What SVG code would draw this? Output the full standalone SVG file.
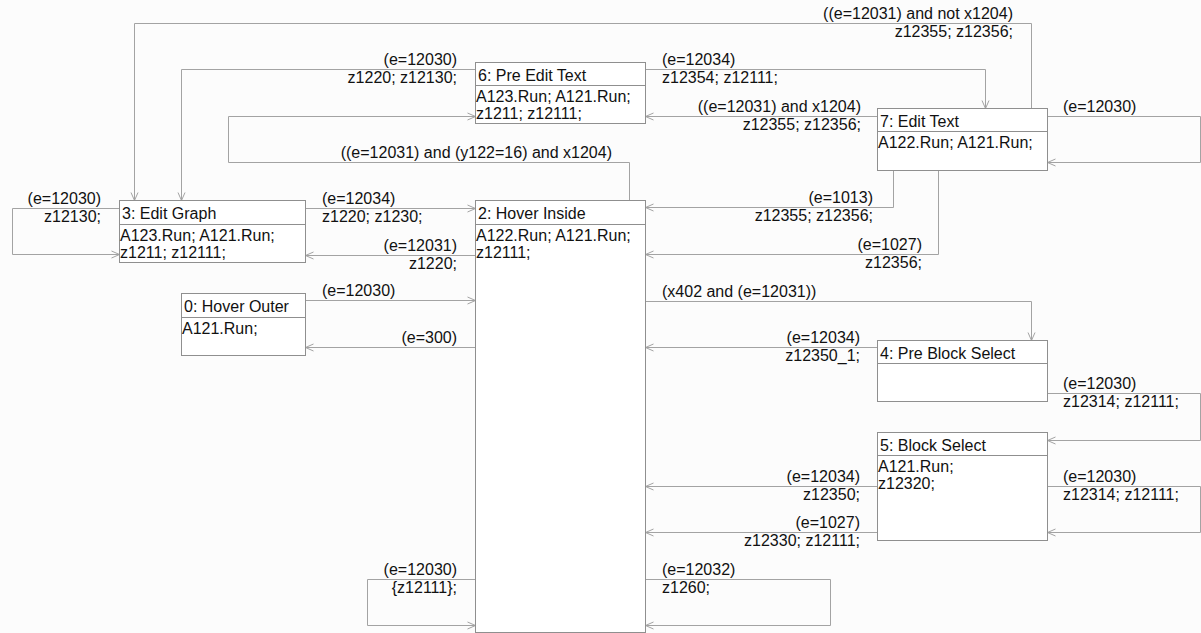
<svg xmlns="http://www.w3.org/2000/svg" width="1201" height="633" viewBox="0 0 1201 633">
<style>
text{font-family:"Liberation Sans",Arial,sans-serif;font-size:16px;fill:#111}
.e{text-anchor:end}
.box{fill:#fff;stroke:#8f8f8f;stroke-width:1}
.sep{stroke:#8f8f8f;stroke-width:1}
.c{fill:none;stroke:#a3a3a3;stroke-width:1;marker-end:url(#ah)}
</style>
<defs>
<marker id="ah" markerUnits="userSpaceOnUse" markerWidth="12" markerHeight="10" viewBox="-10 -5 12 10" refX="0" refY="0" orient="auto">
<path d="M-8,-3.5 L0,0 L-8,3.5" fill="none" stroke="#a3a3a3" stroke-width="1"/>
</marker>
</defs>
<rect width="1201" height="633" fill="#fcfcfc"/>
<g id="connectors" transform="translate(0.5,0.5)">
<polyline class="c" points="1031,108 1031,23 134,23 134,200"/>
<polyline class="c" points="475,69 181,69 181,200"/>
<polyline class="c" points="877,116 645,116"/>
<polyline class="c" points="645,69 985,69 985,108"/>
<polyline class="c" points="629,200 629,162 228,162 228,116 475,116"/>
<polyline class="c" points="1047,116 1200,116 1200,162 1047,162"/>
<polyline class="c" points="893,170 893,207 645,207"/>
<polyline class="c" points="938,170 938,254 645,254"/>
<polyline class="c" points="305,208 475,208"/>
<polyline class="c" points="475,255 305,255"/>
<polyline class="c" points="119,208 12,208 12,254 119,254"/>
<polyline class="c" points="305,300 475,300"/>
<polyline class="c" points="475,347 305,347"/>
<polyline class="c" points="645,301 1031,301 1031,340"/>
<polyline class="c" points="877,347 645,347"/>
<polyline class="c" points="1047,393 1200,393 1200,440 1047,440"/>
<polyline class="c" points="1047,486 1200,486 1200,532 1047,532"/>
<polyline class="c" points="877,486 645,486"/>
<polyline class="c" points="877,532 645,532"/>
<polyline class="c" points="645,579 830,579 830,625 645,625"/>
<polyline class="c" points="475,579 367,579 367,625 475,625"/>
</g>
<g id="labels">
<text class="e" x="1013" y="19">((e=12031) and not x1204)</text>
<text class="e" x="1013" y="37">z12355; z12356;</text>
<text class="e" x="457" y="65">(e=12030)</text>
<text class="e" x="457" y="83">z1220; z12130;</text>
<text x="662" y="65">(e=12034)</text>
<text x="662" y="83">z12354; z12111;</text>
<text class="e" x="861" y="112">((e=12031) and x1204)</text>
<text class="e" x="861" y="130">z12355; z12356;</text>
<text x="1063" y="112">(e=12030)</text>
<text class="e" x="612" y="158">((e=12031) and (y122=16) and x1204)</text>
<text class="e" x="101" y="204">(e=12030)</text>
<text class="e" x="101" y="222">z12130;</text>
<text x="322" y="204">(e=12034)</text>
<text x="322" y="222">z1220; z1230;</text>
<text class="e" x="873" y="203">(e=1013)</text>
<text class="e" x="873" y="221">z12355; z12356;</text>
<text class="e" x="457" y="251">(e=12031)</text>
<text class="e" x="457" y="269">z1220;</text>
<text class="e" x="922" y="250">(e=1027)</text>
<text class="e" x="922" y="268">z12356;</text>
<text x="322" y="296">(e=12030)</text>
<text x="662" y="297">(x402 and (e=12031))</text>
<text class="e" x="457" y="343">(e=300)</text>
<text class="e" x="860" y="343">(e=12034)</text>
<text class="e" x="860" y="361">z12350_1;</text>
<text x="1063" y="389">(e=12030)</text>
<text x="1063" y="407">z12314; z12111;</text>
<text class="e" x="860" y="482">(e=12034)</text>
<text class="e" x="860" y="500">z12350;</text>
<text x="1063" y="482">(e=12030)</text>
<text x="1063" y="500">z12314; z12111;</text>
<text class="e" x="860" y="528">(e=1027)</text>
<text class="e" x="860" y="546">z12330; z12111;</text>
<text class="e" x="457" y="575">(e=12030)</text>
<text class="e" x="457" y="593">{z12111};</text>
<text x="662" y="575">(e=12032)</text>
<text x="662" y="593">z1260;</text>
</g>
<g id="node3">
<rect class="box" x="119.5" y="200.5" width="186" height="62"/>
<line class="sep" x1="119.5" y1="224.5" x2="305.5" y2="224.5"/>
<text x="122" y="219">3: Edit Graph</text>
<text x="120" y="241">A123.Run; A121.Run;</text>
<text x="120" y="258">z1211; z12111;</text>
</g>
<g id="node0">
<rect class="box" x="181.5" y="293.5" width="124" height="62"/>
<line class="sep" x1="181.5" y1="317.5" x2="305.5" y2="317.5"/>
<text x="184" y="312">0: Hover Outer</text>
<text x="182" y="334">A121.Run;</text>
</g>
<g id="node6">
<rect class="box" x="475.5" y="62.5" width="170" height="61"/>
<line class="sep" x1="475.5" y1="85.5" x2="645.5" y2="85.5"/>
<text x="478" y="81">6: Pre Edit Text</text>
<text x="476" y="102">A123.Run; A121.Run;</text>
<text x="476" y="119">z1211; z12111;</text>
</g>
<g id="node2">
<rect class="box" x="475.5" y="200.5" width="170" height="432"/>
<line class="sep" x1="475.5" y1="224.5" x2="645.5" y2="224.5"/>
<text x="478" y="219">2: Hover Inside</text>
<text x="476" y="241">A122.Run; A121.Run;</text>
<text x="476" y="258">z12111;</text>
</g>
<g id="node7">
<rect class="box" x="877.5" y="108.5" width="170" height="62"/>
<line class="sep" x1="877.5" y1="131.5" x2="1047.5" y2="131.5"/>
<text x="880" y="127">7: Edit Text</text>
<text x="878" y="148">A122.Run; A121.Run;</text>
</g>
<g id="node4">
<rect class="box" x="877.5" y="340.5" width="170" height="61"/>
<line class="sep" x1="877.5" y1="363.5" x2="1047.5" y2="363.5"/>
<text x="880" y="359">4: Pre Block Select</text>
</g>
<g id="node5">
<rect class="box" x="877.5" y="432.5" width="170" height="108"/>
<line class="sep" x1="877.5" y1="455.5" x2="1047.5" y2="455.5"/>
<text x="880" y="451">5: Block Select</text>
<text x="878" y="472">A121.Run;</text>
<text x="878" y="489">z12320;</text>
</g>
</svg>
